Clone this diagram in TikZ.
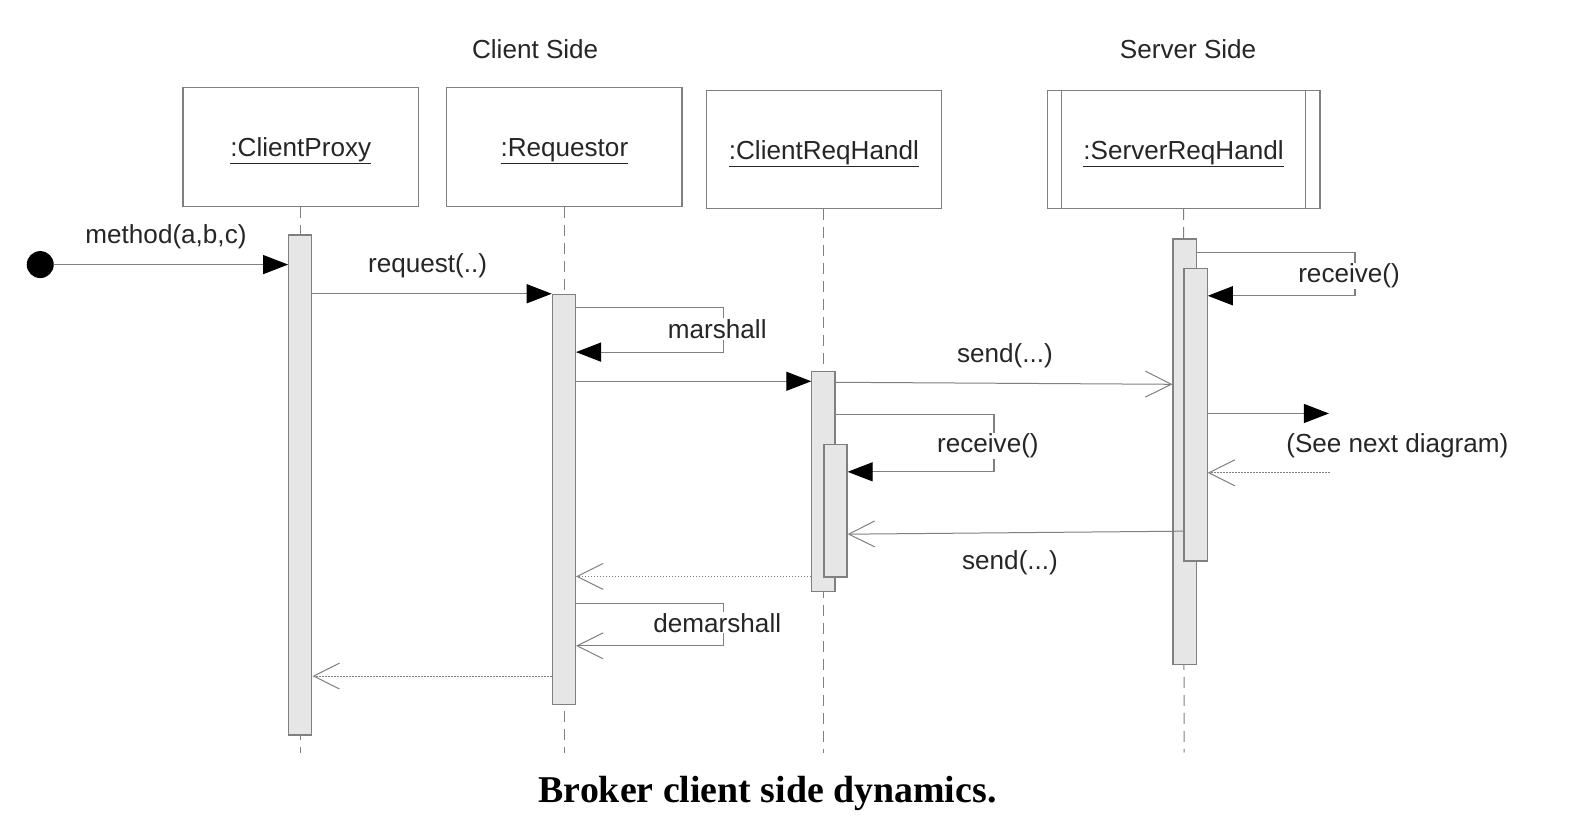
\documentclass[tikz,border=0pt]{standalone}
\usepackage{fontspec}
\setmainfont{Liberation Serif}
\newfontfamily\diasans{Liberation Sans}
\usetikzlibrary{arrows.meta}
\definecolor{linegray}{HTML}{808080}
\definecolor{actfill}{HTML}{E6E6E6}
\definecolor{txt}{HTML}{262626}
\newcommand{\objname}[1]{\raisebox{-10bp}[0pt][0pt]{\underline{#1}}}
\tikzset{
  lbl/.style={font=\diasans\fontsize{26.2}{31}\selectfont, text=txt, inner sep=1pt, yshift=-2.5bp},
  flat/.style={yshift=2.5bp},
  wlbl/.style={lbl, fill=white},
  obj/.style={draw=linegray, line width=1.3bp, minimum width=235.4bp, minimum height=118.7bp, inner sep=0pt,
              font=\diasans\fontsize{26.2}{31}\selectfont, text=txt},
  act/.style={draw=linegray, fill=actfill, line width=1.2bp, minimum width=23.1bp, inner sep=0pt},
  life/.style={draw=linegray, dash pattern=on 11bp off 7bp, line width=1bp},
  msg/.style={draw=linegray, line width=1.2bp, -{Triangle[length=25bp,width=19bp,color=black]}},
  rmsg/.style={draw=linegray, line width=1bp, -{Straight Barb[length=26bp,width=26bp,line width=1bp,color=linegray]}},
  dret/.style={rmsg, dash pattern=on 1.6bp off 1.4bp},
}
\begin{document}
\begin{tikzpicture}[x=1.006bp,y=-1.006bp]
\useasboundingbox[fill=white] (0,0) rectangle (1567.6,822.1);

% side labels
\node[lbl, flat] (cside) at (532,49) {Client Side};
\node[lbl, flat] (sside) at (1181,49) {Server Side};

% objects
\node[obj] (cp) at (299,146) {\objname{:ClientProxy}};
\node[obj] (rq) at (561,146) {\objname{:Requestor}};
\node[obj, minimum height=117.7bp] (ch) at (819,148.5) {\objname{:ClientReqHandl}};
\node[obj, minimum width=272.6bp, minimum height=117.7bp] (sh) at (1176.5,148.5) {\objname{:ServerReqHandl}};
\draw[linegray, line width=1.3bp] ([xshift=15bp]sh.north west) -- ([xshift=15bp]sh.south west);
\draw[linegray, line width=1.3bp] ([xshift=-15bp]sh.north east) -- ([xshift=-15bp]sh.south east);

% lifelines
\coordinate (cpend) at (299,748);
\coordinate (rqend) at (561,748);
\coordinate (chend) at (819,748);
\coordinate (shend) at (1177,748);
\draw[life] (cp.south) -- (cpend);
\draw[life] (rq.south) -- (rqend);
\draw[life] (ch.south) -- (chend);
\draw[life] (sh.south) -- (shend);

% activation bars
\node[act, minimum height=500bp, anchor=north] (a1) at (298.5,233) {};
\node[act, minimum height=410.5bp, anchor=north] (a2) at (560.5,292) {};
\node[act, minimum height=219.3bp, anchor=north] (a3) at (818.5,369) {};
\node[act, minimum height=132.8bp, anchor=north] (a3b) at (830.5,441) {};
\node[act, minimum height=425.5bp, anchor=north] (a4) at (1177.5,237) {};
\node[act, minimum height=292.7bp, anchor=north] (a4b) at (1188.5,266) {};

% start
\node[circle, fill=black, minimum size=27bp, inner sep=0pt] (start) at (40,263) {};
\draw[msg] (start) -- (a1.west |- start);
\node[lbl] (lmethod) at (165,233) {method(a,b,c)};

% request
\draw[msg] (a1.east |- 0,292) -- (a2.north west);
\node[lbl] (lrequest) at (425,262) {request(..)};

% marshall self call
\coordinate (m1) at (719,306);
\coordinate (m2) at (719,350);
\draw[msg] (a2.east |- m1) -- (m1) -- (m2) -- (a2.east |- m2);
\node[wlbl, flat] (lmarshall) at (713,327) {marshall};

% requestor -> clientreqhandl
\draw[msg] (a2.east |- 0,379) -- (a3.west |- 0,379);

% send to server
\draw[rmsg] (a3.east |- 0,380) -- (a4.west |- 0,382);
\node[lbl] (lsend1) at (999,351) {send(...)};

% receive on client req handl
\coordinate (r1) at (988,412);
\coordinate (r2) at (988,469);
\draw[msg] (a3.east |- r1) -- (r1) -- (r2) -- (a3b.east |- r2);
\node[wlbl] (lrecv1) at (982,441) {receive()};

% server receive self
\coordinate (s1) at (1347,251);
\coordinate (s2) at (1347,294);
\draw[msg] (a4.east |- s1) -- (s1) -- (s2) -- (a4b.east |- s2);
\node[wlbl] (lrecv2) at (1341,272) {receive()};

% to next diagram
\coordinate (nx) at (1321,411);
\draw[msg] (a4b.east |- nx) -- (nx);
\node[lbl] (lnext) at (1389,441) {(See next diagram)};
\coordinate (nx2) at (1322,470);
\draw[dret] (nx2) -- (a4b.east |- nx2);

% send back
\draw[rmsg] (a4b.west |- 0,528) -- (a3b.east |- 0,531);
\node[lbl] (lsend2) at (1004,557) {send(...)};

% return to requestor
\draw[dret] (a3.west |- 0,573) -- (a2.east |- 0,573);

% demarshall
\coordinate (d1) at (719,600);
\coordinate (d2) at (719,642);
\draw[rmsg] (a2.east |- d1) -- (d1) -- (d2) -- (a2.east |- d2);
\node[wlbl, flat] (ldemarshall) at (713,619) {demarshall};

% return to client proxy
\draw[dret] (a2.west |- 0,672) -- (a1.east |- 0,672);

% caption
\node[font=\bfseries\fontsize{38}{44}\selectfont, text=black, anchor=base, inner sep=0pt] (cap) at (763,798) {Broker client side dynamics.};
\end{tikzpicture}
\end{document}
